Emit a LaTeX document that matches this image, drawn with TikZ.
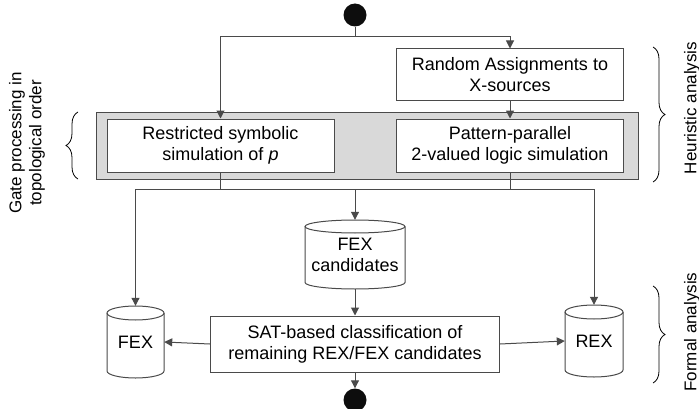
\documentclass[tikz,border=0pt]{standalone}
\usepackage{fontspec}
\setmainfont{Liberation Sans}
\usetikzlibrary{arrows.meta,decorations.pathreplacing}
\definecolor{linec}{HTML}{4A4A4A}
\definecolor{grayfill}{HTML}{D9D9D9}
\definecolor{dotc}{HTML}{0D0D0D}
\tikzset{
  boxline/.style={draw=linec, line width=1pt},
  procbox/.style={boxline, fill=white, minimum width=227pt, minimum height=53pt, align=center, inner sep=0pt, font=\fontsize{18}{21}\selectfont},
  conn/.style={draw=linec, line width=1pt},
  arr/.style={conn, -{Triangle[length=8pt,width=8pt]}},
  dot/.style={circle, fill=dotc, draw=none, minimum size=23pt, inner sep=0pt},
  cyltext/.style={align=center, inner sep=0pt, font=\fontsize{18}{21}\selectfont},
  sidelabel/.style={align=center, rotate=90, font=\fontsize{17}{20}\selectfont},
  bracestyle/.style={draw=black, line width=0.8pt, decorate, decoration={brace, amplitude=12pt}}
}
\newcommand\mycyl[5]{%
  \fill[white] ({#1-#3/2},{#2+#4/2-#5}) -- ({#1-#3/2},{#2-#4/2+#5}) arc[start angle=180,end angle=360,x radius={#3/2},y radius=#5] -- ({#1+#3/2},{#2+#4/2-#5}) arc[start angle=0,end angle=180,x radius={#3/2},y radius=#5] -- cycle;
  \draw[boxline] ({#1-#3/2},{#2+#4/2-#5}) -- ({#1-#3/2},{#2-#4/2+#5}) arc[start angle=180,end angle=360,x radius={#3/2},y radius=#5] -- ({#1+#3/2},{#2+#4/2-#5});
  \draw[boxline] (#1,{#2+#4/2-#5}) ellipse[x radius={#3/2},y radius=#5];
}
\begin{document}
\begin{tikzpicture}[x=1pt,y=1pt]
\useasboundingbox (0,0) rectangle (699,408);
% gray container
\node[boxline, fill=grayfill, minimum width=542pt, minimum height=67pt, inner sep=0pt] (group) at (367,262.5) {};
% process boxes
\node[procbox, minimum height=51pt] (rand) at (510,333.5) {Random Assignments to\\X-sources};
\node[procbox] (symb) at (220.5,262.5) {Restricted symbolic\\simulation of \textit{p}};
\node[procbox] (sim) at (510,262.5) {Pattern-parallel\\2-valued logic simulation};
\node[procbox, minimum width=289pt, minimum height=56pt] (sat) at (355,64) {SAT-based classification of\\remaining REX/FEX candidates};
% cylinders
\mycyl{355}{153.5}{100}{69}{6.5}
\node[cyltext, minimum width=100pt, minimum height=69pt] (fexc) at (355,153.5) {FEX\\candidates};
\mycyl{135.5}{66}{57}{72}{7}
\node[cyltext, minimum width=57pt, minimum height=72pt] (fex) at (135.5,66) {FEX};
\mycyl{594}{67}{58}{72}{7}
\node[cyltext, minimum width=58pt, minimum height=72pt] (rex) at (594,67) {REX};
% start / end
\node[dot] (start) at (355,393) {};
\node[dot] (end) at (355,8) {};
% coordinates
\coordinate (br) at (355,371);
\coordinate (busL) at (135.5,219);
\coordinate (busC) at (355,219);
\coordinate (busR) at (594,219);
% connectors
\draw[conn] (start) -- (br);
\draw[arr] (br) -| (symb.north);
\draw[arr] (br) -| (rand.north);
\draw[arr] (rand.south) -- (sim.north);
\draw[conn] (symb.south) -- (symb.south |- busC);
\draw[conn] (sim.south) -- (sim.south |- busC);
\draw[conn] (busL) -- (busR);
\draw[arr] (busL) -- (fex.north);
\draw[arr] (busC) -- (fexc.north);
\draw[arr] (busR) -- (rex.north);
\draw[arr] (fexc.south) -- (sat.north);
\draw[arr] (sat.west) -- (fex.east);
\draw[arr] (sat.east) -- (rex.west);
\draw[arr] (sat.south) -- (end.north);
% braces
\draw[bracestyle] (78,229) -- (78,296);
\draw[bracestyle] (653,361) -- (653,226);
\draw[bracestyle] (653,122) -- (653,25);
% side labels
\node[sidelabel] (gplabel) at (27,265) {Gate processing in\\topological order};
\node[sidelabel] (heur) at (692,300) {Heuristic analysis};
\node[sidelabel] (formal) at (692,76) {Formal analysis};
\end{tikzpicture}
\end{document}
